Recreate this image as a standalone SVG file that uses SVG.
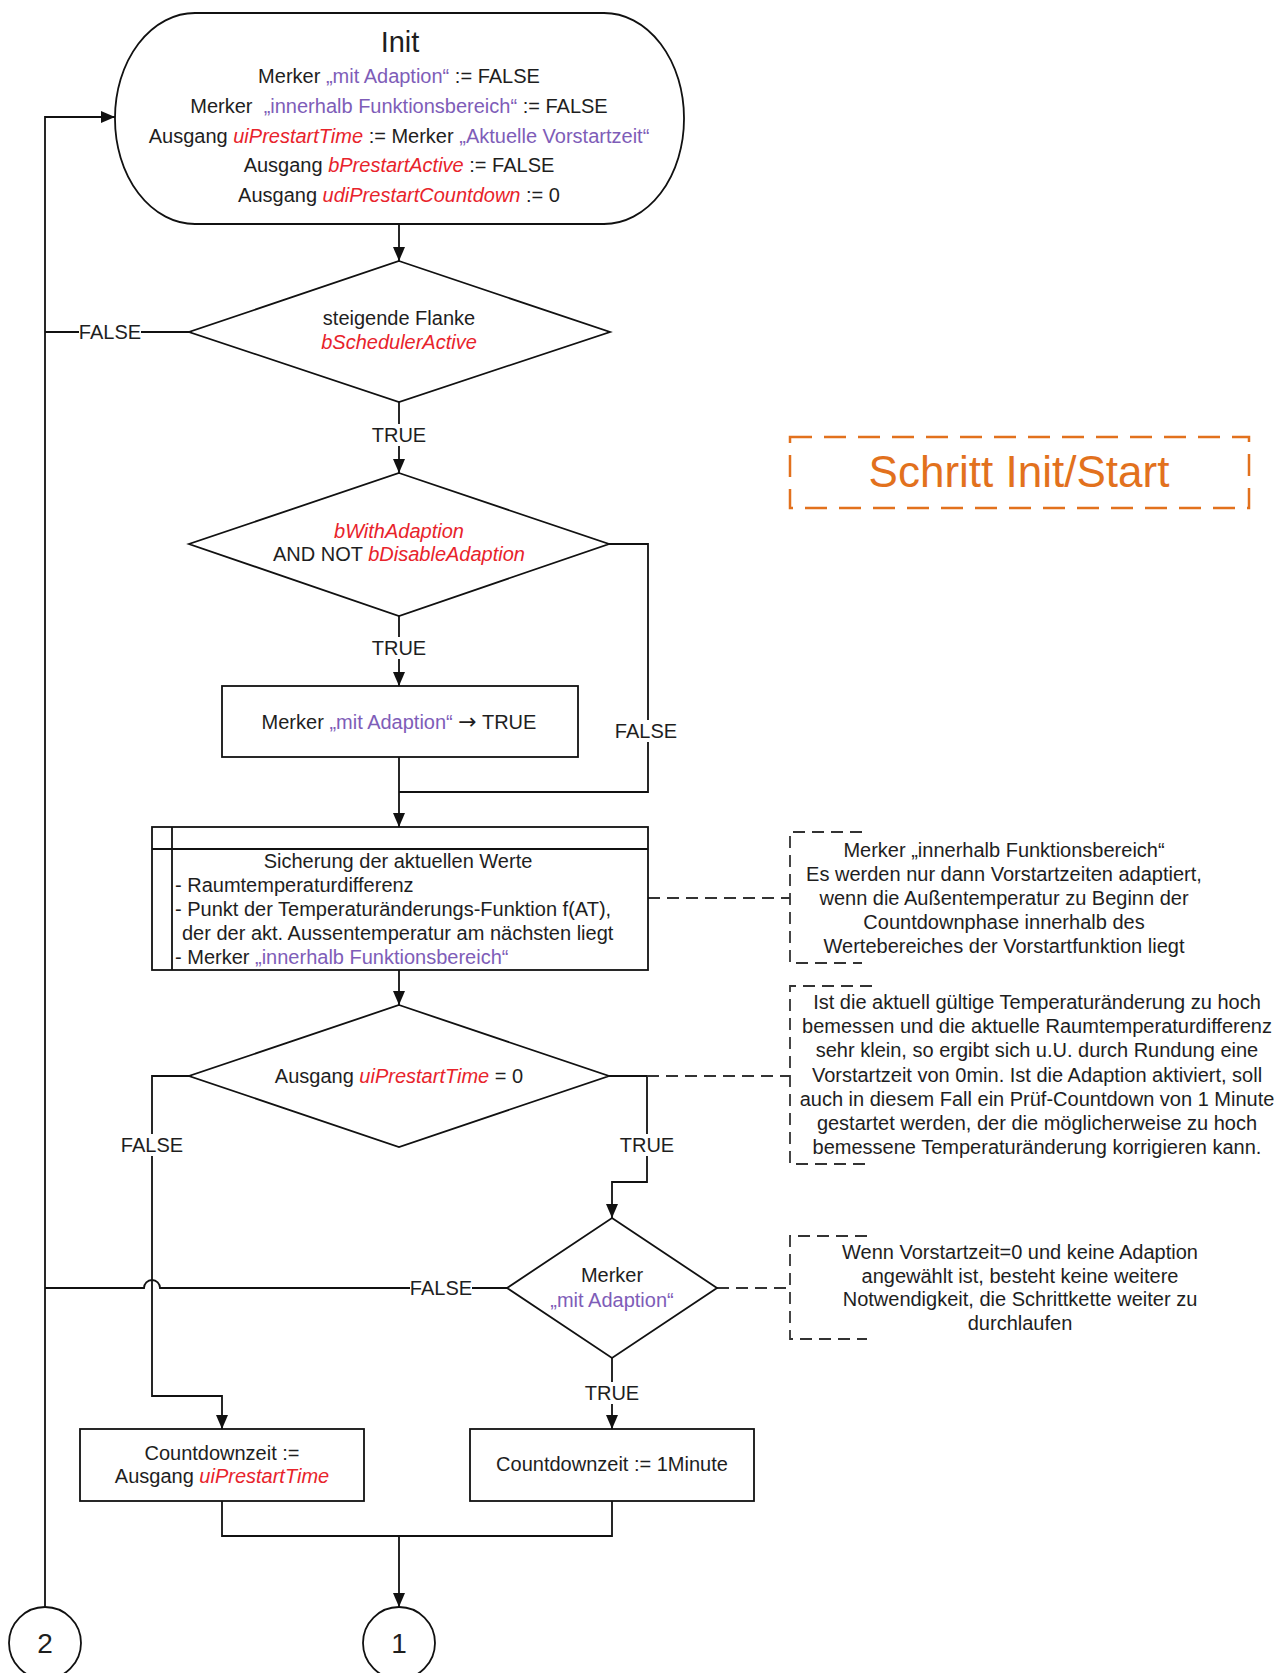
<svg xmlns="http://www.w3.org/2000/svg" width="1285" height="1673" viewBox="0 0 1285 1673">
<defs>
<style>
.t{font-family:"Liberation Sans",Arial,sans-serif;font-size:20px;fill:#1e1e1e;white-space:pre}
.c{text-anchor:middle}
.r{fill:#E8232B;font-style:italic}
.p{fill:#7E5DB8}
.s{fill:#fff;stroke:#111;stroke-width:1.8}
.ln{fill:none;stroke:#111;stroke-width:1.8}
.dl{fill:none;stroke:#333;stroke-width:1.8;stroke-dasharray:12 7}
.lb{fill:#fff;stroke:none}
</style>
<marker id="ah" markerUnits="userSpaceOnUse" markerWidth="14" markerHeight="12" refX="14" refY="6" orient="auto">
<path d="M0,0 L14,6 L0,12 z" fill="#111"/>
</marker>
</defs>
<rect width="1285" height="1673" fill="#fff"/>

<g id="connectors">
<path class="ln" d="M45,1607 V117 H115" marker-end="url(#ah)"/>
<path class="ln" d="M399,224 V261" marker-end="url(#ah)"/>
<path class="ln" d="M189,332 H45"/>
<path class="ln" d="M399,402 V473" marker-end="url(#ah)"/>
<path class="ln" d="M609,544 H648 V792 H399"/>
<path class="ln" d="M399,616 V686" marker-end="url(#ah)"/>
<path class="ln" d="M399,757 V827" marker-end="url(#ah)"/>
<path class="ln" d="M399,970 V1005" marker-end="url(#ah)"/>
<path class="ln" d="M189,1076 H152 V1396 H222 V1429" marker-end="url(#ah)"/>
<path class="ln" d="M609,1076 H647 V1182 H612 V1218" marker-end="url(#ah)"/>
<path class="ln" d="M507,1288 H160 A8,8 0 0 0 144,1288 H45"/>
<path class="ln" d="M612,1358 V1429" marker-end="url(#ah)"/>
<path class="ln" d="M222,1501 V1536 H612 V1501"/>
<path class="ln" d="M399,1536 V1607" marker-end="url(#ah)"/>
<path class="dl" d="M648,898 H790"/>
<path class="dl" d="M647,1076 H790"/>
<path class="dl" d="M717,1288 H789"/>
</g>

<g id="labels">
<rect class="lb" x="79" y="321" width="62" height="22"/>
<text class="t c" x="110" y="339">FALSE</text>
<rect class="lb" x="370" y="424" width="58" height="22"/>
<text class="t c" x="399" y="442">TRUE</text>
<rect class="lb" x="370" y="637" width="58" height="22"/>
<text class="t c" x="399" y="655">TRUE</text>
<rect class="lb" x="615" y="720" width="62" height="22"/>
<text class="t c" x="646" y="738">FALSE</text>
<rect class="lb" x="121" y="1134" width="62" height="22"/>
<text class="t c" x="152" y="1152">FALSE</text>
<rect class="lb" x="618" y="1134" width="58" height="22"/>
<text class="t c" x="647" y="1152">TRUE</text>
<rect class="lb" x="410" y="1277" width="62" height="22"/>
<text class="t c" x="441" y="1295">FALSE</text>
<rect class="lb" x="583" y="1382" width="58" height="22"/>
<text class="t c" x="612" y="1400">TRUE</text>
</g>

<g id="init">
<rect class="s" x="115" y="13" width="569" height="211" rx="80" ry="105"/>
<text class="t c" x="400" y="52" style="font-size:29px">Init</text>
<text class="t c" x="399" y="83">Merker <tspan class="p">„mit Adaption“</tspan> := FALSE</text>
<text class="t c" x="399" y="113">Merker  <tspan class="p">„innerhalb Funktionsbereich“</tspan> := FALSE</text>
<text class="t c" x="399" y="143">Ausgang <tspan class="r">uiPrestartTime</tspan> := Merker <tspan class="p">„Aktuelle Vorstartzeit“</tspan></text>
<text class="t c" x="399" y="172">Ausgang <tspan class="r">bPrestartActive</tspan> := FALSE</text>
<text class="t c" x="399" y="202">Ausgang <tspan class="r">udiPrestartCountdown</tspan> := 0</text>
</g>

<g id="d1">
<polygon class="s" points="399,261 610,332 399,402 189,332"/>
<text class="t c" x="399" y="325">steigende Flanke</text>
<text class="t c r" x="399" y="349">bSchedulerActive</text>
</g>

<g id="d2">
<polygon class="s" points="399,473 609,544 399,616 189,544"/>
<text class="t c r" x="399" y="538">bWithAdaption</text>
<text class="t c" x="399" y="561">AND NOT <tspan class="r">bDisableAdaption</tspan></text>
</g>

<g id="setAdaption">
<rect class="s" x="222" y="686" width="356" height="71"/>
<text class="t c" x="399" y="729">Merker <tspan class="p">„mit Adaption“</tspan> <tspan style="font-family:'DejaVu Sans',sans-serif;font-size:22px">→</tspan> TRUE</text>
</g>

<g id="sicherung">
<rect class="s" x="152" y="827" width="496" height="143"/>
<path class="ln" d="M152,849 H648 M172,827 V970"/>
<text class="t c" x="398" y="868">Sicherung der aktuellen Werte</text>
<text class="t" x="175" y="892">- Raumtemperaturdifferenz</text>
<text class="t" x="175" y="916">- Punkt der Temperaturänderungs-Funktion f(AT),</text>
<text class="t" x="182" y="940">der der akt. Aussentemperatur am nächsten liegt</text>
<text class="t" x="175" y="964">- Merker <tspan class="p">„innerhalb Funktionsbereich“</tspan></text>
</g>

<g id="d3">
<polygon class="s" points="399,1005 609,1076 399,1147 189,1076"/>
<text class="t c" x="399" y="1083">Ausgang <tspan class="r">uiPrestartTime</tspan> = 0</text>
</g>

<g id="d4">
<polygon class="s" points="612,1218 717,1288 612,1358 507,1288"/>
<text class="t c" x="612" y="1282">Merker</text>
<text class="t c p" x="612" y="1307">„mit Adaption“</text>
</g>

<g id="countdownA">
<rect class="s" x="80" y="1429" width="284" height="72"/>
<text class="t c" x="222" y="1460">Countdownzeit :=</text>
<text class="t c" x="222" y="1483">Ausgang <tspan class="r">uiPrestartTime</tspan></text>
</g>

<g id="countdownB">
<rect class="s" x="470" y="1429" width="284" height="72"/>
<text class="t c" x="612" y="1471">Countdownzeit := 1Minute</text>
</g>

<g id="conn1">
<circle class="s" cx="399" cy="1643" r="36"/>
<text class="t c" x="399" y="1653" style="font-size:28px">1</text>
</g>

<g id="conn2">
<circle class="s" cx="45" cy="1643" r="36"/>
<text class="t c" x="45" y="1653" style="font-size:28px">2</text>
</g>

<g id="title">
<rect x="790" y="437" width="459" height="71" fill="none" stroke="#E2711D" stroke-width="2.5" stroke-dasharray="22 12"/>
<text class="t c" x="1019" y="487" style="font-size:44px;fill:#E2711D">Schritt Init/Start</text>
</g>

<g id="note1">
<path class="dl" d="M862,832 H790 V963 H862"/>
<text class="t c" x="1004" y="857">Merker „innerhalb Funktionsbereich“</text>
<text class="t c" x="1004" y="881">Es werden nur dann Vorstartzeiten adaptiert,</text>
<text class="t c" x="1004" y="905">wenn die Außentemperatur zu Beginn der</text>
<text class="t c" x="1004" y="929">Countdownphase innerhalb des</text>
<text class="t c" x="1004" y="953">Wertebereiches der Vorstartfunktion liegt</text>
</g>

<g id="note2">
<path class="dl" d="M872,986 H790 V1164 H872"/>
<text class="t c" x="1037" y="1009">Ist die aktuell gültige Temperaturänderung zu hoch</text>
<text class="t c" x="1037" y="1033">bemessen und die aktuelle Raumtemperaturdifferenz</text>
<text class="t c" x="1037" y="1057">sehr klein, so ergibt sich u.U. durch Rundung eine</text>
<text class="t c" x="1037" y="1082">Vorstartzeit von 0min. Ist die Adaption aktiviert, soll</text>
<text class="t c" x="1037" y="1106">auch in diesem Fall ein Prüf-Countdown von 1 Minute</text>
<text class="t c" x="1037" y="1130">gestartet werden, der die möglicherweise zu hoch</text>
<text class="t c" x="1037" y="1154">bemessene Temperaturänderung korrigieren kann.</text>
</g>

<g id="note3">
<path class="dl" d="M867,1236 H790 V1339 H867"/>
<text class="t c" x="1020" y="1259">Wenn Vorstartzeit=0 und keine Adaption</text>
<text class="t c" x="1020" y="1283">angewählt ist, besteht keine weitere</text>
<text class="t c" x="1020" y="1306">Notwendigkeit, die Schrittkette weiter zu</text>
<text class="t c" x="1020" y="1330">durchlaufen</text>
</g>
</svg>
